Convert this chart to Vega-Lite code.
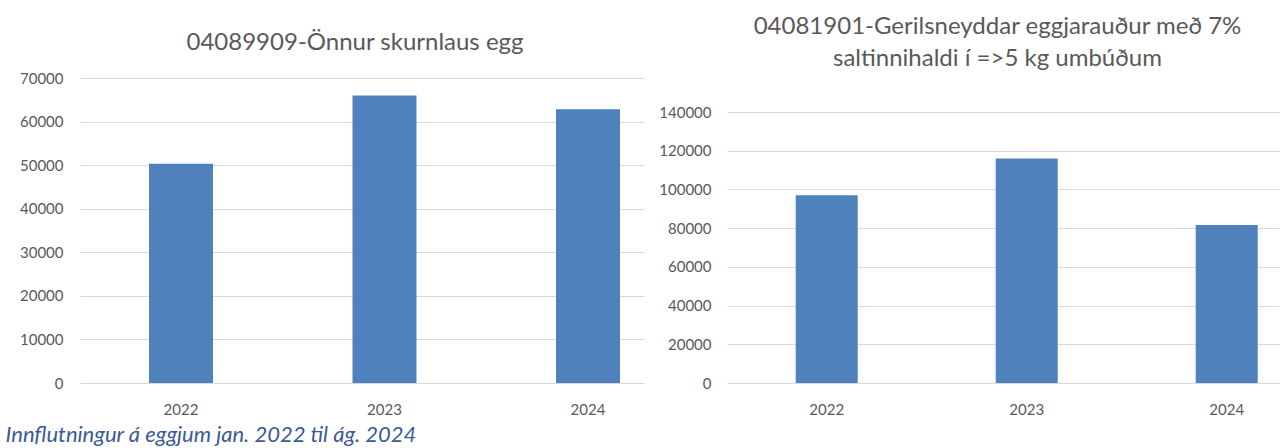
{
  "$schema": "https://vega.github.io/schema/vega-lite/v6.json",
  "autosize": {"type": "pad"},
  "padding": {"left": 5, "top": 15, "right": 0, "bottom": 0},
  "background": "white",
  "bounds": "flush",
  "spacing": 83,
  "config": {
    "font": "Lato",
    "view": {"stroke": null},
    "axis": {
      "labelFont": "Lato",
      "labelFontSize": 15,
      "labelColor": "#595959",
      "ticks": false,
      "tickSize": 0,
      "domain": false,
      "gridColor": "#D9D9D9",
      "gridWidth": 1.2,
      "title": null
    },
    "title": {"font": "Lato", "fontSize": 24, "fontWeight": "normal", "color": "#595959"}
  },
  "title": {
    "text": "Innflutningur á eggjum jan. 2022 til ág. 2024",
    "orient": "bottom",
    "anchor": "start",
    "frame": "bounds",
    "fontStyle": "italic",
    "fontSize": 22,
    "color": "#3C5A96",
    "dx": -14,
    "offset": 8
  },
  "datasets": {
    "skurnlaus": [
      {"ar": "2022", "magn": 50300},
      {"ar": "2023", "magn": 66000},
      {"ar": "2024", "magn": 62800}
    ],
    "eggjaraudur": [
      {"ar": "2022", "magn": 97000},
      {"ar": "2023", "magn": 116000},
      {"ar": "2024", "magn": 81600}
    ]
  },
  "hconcat": [
    {
      "width": 564,
      "height": 305,
      "title": {"text": "04089909-Önnur skurnlaus egg", "frame": "group", "anchor": "middle", "dx": -7, "offset": 16},
      "data": {"name": "skurnlaus"},
      "mark": {"type": "bar", "color": "#4F81BD"},
      "encoding": {
        "x": {
          "field": "ar",
          "type": "ordinal",
          "scale": {"paddingInner": 0.6855, "paddingOuter": 0.2285, "align": 0.742},
          "axis": {"labelAngle": 0, "labelPadding": 19, "grid": false}
        },
        "y": {
          "field": "magn",
          "type": "quantitative",
          "scale": {"domain": [0, 70000], "nice": false},
          "axis": {"values": [0, 10000, 20000, 30000, 40000, 50000, 60000, 70000], "format": "d", "labelPadding": 17, "grid": true}
        }
      }
    },
    {
      "width": 553,
      "height": 305,
      "title": {
        "text": ["04081901-Gerilsneyddar eggjarauður með 7%", "saltinnihaldi í =>5 kg umbúðum"],
        "frame": "group",
        "anchor": "middle",
        "dx": -6,
        "offset": 7,
        "lineHeight": 32
      },
      "data": {"name": "eggjaraudur"},
      "mark": {"type": "bar", "color": "#4F81BD"},
      "encoding": {
        "x": {
          "field": "ar",
          "type": "ordinal",
          "scale": {"paddingInner": 0.69, "paddingOuter": 0.2275, "align": 0.755},
          "axis": {"labelAngle": 0, "labelPadding": 19, "grid": false}
        },
        "y": {
          "field": "magn",
          "type": "quantitative",
          "scale": {"domain": [0, 157565], "nice": false},
          "axis": {"values": [0, 20000, 40000, 60000, 80000, 100000, 120000, 140000], "format": "d", "labelPadding": 16, "grid": true}
        }
      }
    }
  ]
}
